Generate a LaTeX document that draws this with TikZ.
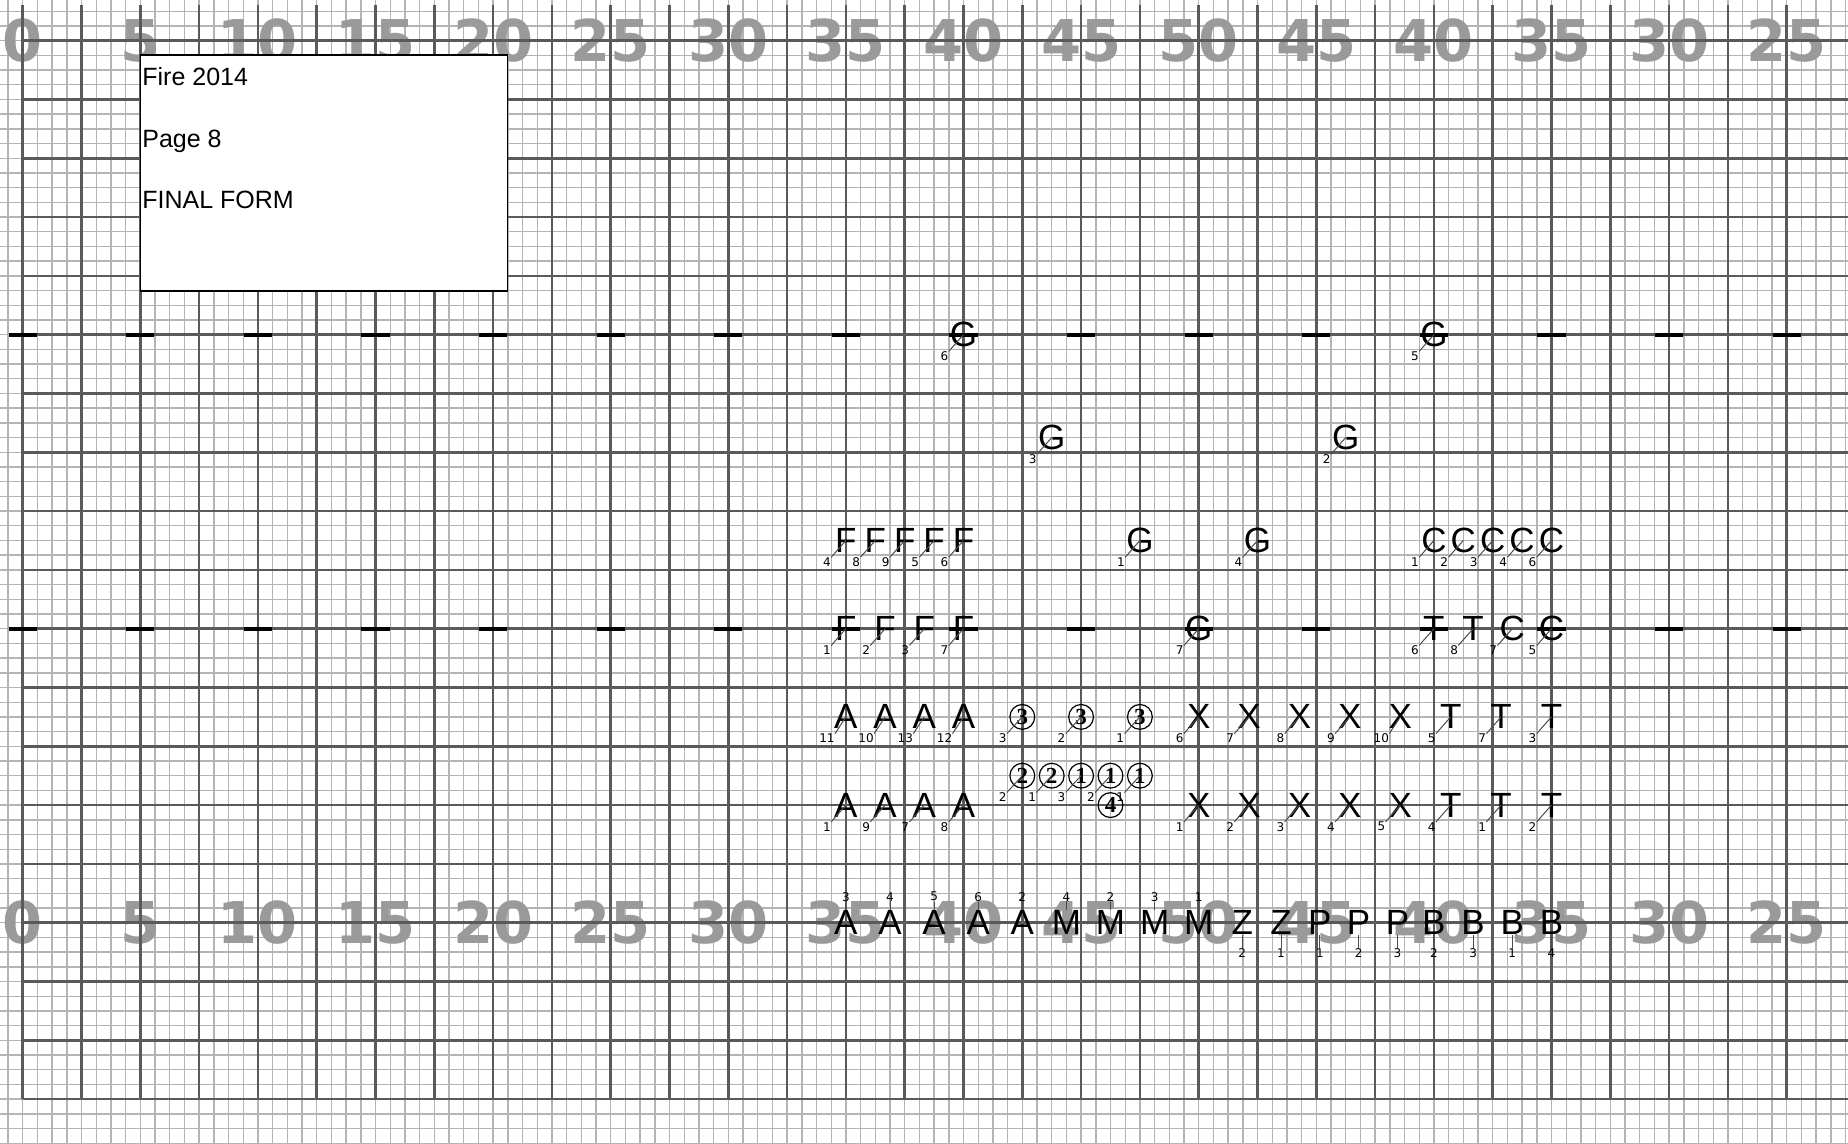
\documentclass[tikz,border=0pt]{standalone}
\usepackage{fontspec}
\setmainfont{Liberation Sans}
\newfontfamily\yardfont{DejaVu Sans}
\newfontfamily\tagfont{DejaVu Sans}
\newfontfamily\ringfont{Liberation Serif}
\usetikzlibrary{calc}

\definecolor{minorline}{HTML}{B4B4B4}
\definecolor{majorline}{HTML}{5A5A5A}
\definecolor{yardnum}{HTML}{9A9A9A}

\begin{document}
\begin{tikzpicture}[x=0.5pt, y=-0.5pt]
  \useasboundingbox (0,0) rectangle (1848,1144);
  \clip (0,0) rectangle (1848,1144);
  \tikzset{
    minor/.style={draw=minorline, line width=0.7pt},
    major/.style={draw=majorline, line width=1.3pt},
    hashbar/.style={draw=black, line width=2pt},
    yard/.style={font=\yardfont\bfseries\fontsize{28.8}{30}\selectfont, text=yardnum, inner sep=0pt},
    boxtext/.style={font=\fontsize{12.5}{14}\selectfont, inner sep=0pt, anchor=base west},
    player/.style={font=\fontsize{17.5}{18}\selectfont, inner sep=0pt},
    ring/.style={circle, draw, line width=0.6pt, minimum size=12.4pt, inner sep=0pt,
                 font=\ringfont\bfseries\fontsize{11.5}{12}\selectfont},
    spotnum/.style={font=\tagfont\fontsize{6}{7}\selectfont, inner sep=0pt},
    spotline/.style={draw=black!70, line width=0.5pt}
  }

  % field grid, one unit = 2.5 yards
  \begin{scope}[shift={(22.7,40.7)}, x=29.4pt, y=-29.4pt]
    \foreach \i in {-1,...,124} \draw[minor] (\i/4,-0.7) -- (\i/4,18.8);
    \foreach \i in {-2,...,75} \draw[minor] (-0.4,\i/4) -- (31.1,\i/4);

    \foreach \j in {0,...,15} {
      \pgfmathtruncatemacro\yd{\j<=10 ? 5*\j : 100-5*\j}
      \node[yard] (ytop\j) at (2*\j,0) {\yd};
      \node[yard] (ybot\j) at (2*\j,15) {\yd};
    }

    \foreach \j in {0,...,30} \draw[major] (\j,-0.607) -- (\j,18);
    \foreach \k in {0,...,18} \draw[major] (0,\k) -- (31.1,\k);

    \foreach \j in {0,2,...,30} {
      \draw[hashbar] (\j-0.24,5) -- (\j+0.24,5);
      \draw[hashbar] (\j-0.24,10) -- (\j+0.24,10);
    }
  \end{scope}

  \draw[fill=white, line width=0.6pt] (140.3,55) rectangle (507.8,291);
  \node[boxtext] (title) at (142,85.6) {Fire 2014};
  \node[boxtext] (page) at (142,148) {Page 8};
  \node[boxtext] (form) at (142,208.3) {FINAL FORM};

  \begin{scope}[shift={(22.7,40.7)}, x=29.4pt, y=-29.4pt]
    % spots with the number down-left
    \foreach \nm/\x/\y/\ch/\lb in {
        ga/16/5/G/6, gb/24/5/G/5, gc/17.5/6.75/G/3, gd/22.5/6.75/G/2,
        fa/14/8.5/F/4, fb/14.5/8.5/F/8, fc/15/8.5/F/9, fd/15.5/8.5/F/5, fe/16/8.5/F/6,
        ge/19/8.5/G/1, gf/21/8.5/G/4,
        ca/24/8.5/C/1, cb/24.5/8.5/C/2, cc/25/8.5/C/3, cd/25.5/8.5/C/4, ce/26/8.5/C/6,
        ff/14/10/F/1, fg/14.667/10/F/2, fh/15.333/10/F/3, fi/16/10/F/7,
        gg/20/10/G/7,
        ta/24/10/T/6, tb/24.667/10/T/8, cf/25.333/10/C/7, cg/26/10/C/5,
        aa/14/11.5/A/11, ab/14.667/11.5/A/10, ac/15.333/11.5/A/13, ad/16/11.5/A/12,
        xa/20/11.5/X/6, xb/20.857/11.5/X/7, xc/21.714/11.5/X/8, xd/22.571/11.5/X/9, xe/23.429/11.5/X/10,
        tc/24.286/11.5/T/5, td/25.143/11.5/T/7, te/26/11.5/T/3,
        ae/14/13/A/1, af/14.667/13/A/9, ag/15.333/13/A/7, ah/16/13/A/8,
        xf/20/13/X/1, xg/20.857/13/X/2, xh/21.714/13/X/3, xi/22.571/13/X/4, xj/23.429/13/X/5,
        tf/24.286/13/T/4, tg/25.143/13/T/1, th/26/13/T/2}{
      \node[player] (p\nm) at (\x,\y) {\ch};
      \node[spotnum] (n\nm) at ([xshift=-9.5pt,yshift=-10.8pt]p\nm.center) {\lb};
      \draw[spotline] (n\nm.north east) -- (p\nm.center);
    }

    \foreach \nm/\x/\y/\ch/\lb in {
        ra/17/11.5/3/3, rb/18/11.5/3/2, rc/19/11.5/3/1,
        rd/17/12.5/2/2, re/17.5/12.5/2/1, rf/18/12.5/1/3, rg/18.5/12.5/1/2, rh/19/12.5/1/1}{
      \node[ring] (p\nm) at (\x,\y) {\ch};
      \node[spotnum] (n\nm) at ([xshift=-9.8pt,yshift=-10.8pt]p\nm.center) {\lb};
      \draw[spotline] (n\nm.north east) -- (p\nm.center);
    }
    \node[ring] (pri) at (18.5,13) {4};

    % front line, numbers above or below
    \foreach \nm/\x/\ch/\lb in {
        ba/14/A/3, bb/14.75/A/4, bc/15.5/A/5, bd/16.25/A/6, be/17/A/2,
        ma/17.75/M/4, mb/18.5/M/2, mc/19.25/M/3, md/20/M/1}{
      \node[player] (p\nm) at (\x,15) {\ch};
      \node[spotnum] (n\nm) at ([yshift=13pt]p\nm.center) {\lb};
      \draw[spotline] (n\nm.south) -- (p\nm.north);
    }
    \foreach \nm/\x/\ch/\lb in {
        za/20.74/Z/2, zb/21.40/Z/1, pa/22.06/P/1, pb/22.72/P/2, pc/23.38/P/3,
        bf/24/B/2, bg/24.667/B/3, bh/25.333/B/1, bi/26/B/4}{
      \node[player] (p\nm) at (\x,15) {\ch};
      \node[spotnum] (n\nm) at ([yshift=-15pt]p\nm.center) {\lb};
      \draw[spotline] (p\nm.south) -- (n\nm.north);
    }
  \end{scope}
\end{tikzpicture}
\end{document}
